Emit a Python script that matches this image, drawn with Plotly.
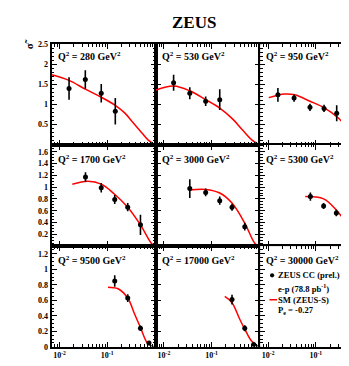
import plotly.graph_objects as go
from plotly.subplots import make_subplots

# ---------------- data ----------------
q2_values = [280, 530, 950, 1700, 3000, 5300, 9500, 17000, 30000]

point_x = [
    [0.0158, 0.0347, 0.075, 0.148],
    [0.016, 0.035, 0.0755, 0.149],
    [0.016, 0.035, 0.0755, 0.149, 0.275],
    [0.035, 0.075, 0.144, 0.27, 0.50],
    [0.035, 0.0755, 0.149, 0.27, 0.50],
    [0.077, 0.146, 0.27, 0.49],
    [0.144, 0.27, 0.50, 0.755],
    [0.27, 0.50, 0.77],
    [0.49],
]
point_y = [
    [1.40, 1.62, 1.28, 0.83],
    [1.54, 1.28, 1.08, 1.12],
    [1.24, 1.16, 0.93, 0.90, 0.78],
    [1.17, 0.99, 0.79, 0.66, 0.36],
    [0.975, 0.91, 0.77, 0.66, 0.33],
    [0.84, 0.68, 0.56, 0.28],
    [0.85, 0.63, 0.24, 0.05],
    [0.61, 0.24, 0.03],
    [0.28],
]
point_err = [
    [0.28, 0.23, 0.23, 0.33],
    [0.20, 0.15, 0.12, 0.26],
    [0.17, 0.09, 0.09, 0.09, 0.20],
    [0.083, 0.08, 0.075, 0.07, 0.17],
    [0.16, 0.066, 0.07, 0.06, 0.066],
    [0.07, 0.05, 0.055, 0.044],
    [0.073, 0.05, 0.035, 0.012],
    [0.063, 0.04, 0.012],
    [0.05],
]

curve_x = [
    [0.0068, 0.0158, 0.0347, 0.075, 0.148, 0.233, 0.348, 0.52, 0.72, 1.0],
    [0.0068, 0.016, 0.035, 0.0755, 0.149, 0.283, 0.46, 0.70, 1.0],
    [0.0103, 0.0222, 0.036, 0.0755, 0.154, 0.293, 0.475, 0.76, 1.0],
    [0.0185, 0.0395, 0.075, 0.143, 0.27, 0.50, 0.845, 1.0],
    [0.034, 0.0755, 0.149, 0.27, 0.50, 0.81, 1.0],
    [0.060, 0.146, 0.27, 0.49, 0.735, 1.0],
    [0.104, 0.169, 0.27, 0.378, 0.50, 0.72, 1.0],
    [0.19, 0.27, 0.39, 0.50, 0.685, 1.0],
    [0.34, 0.49, 0.735, 1.0],
]
curve_y = [
    [1.74, 1.60, 1.38, 1.18, 0.98, 0.79, 0.55, 0.31, 0.12, 0.0],
    [1.36, 1.46, 1.34, 1.12, 0.91, 0.63, 0.35, 0.12, 0.0],
    [1.17, 1.26, 1.24, 1.08, 0.91, 0.67, 0.39, 0.08, 0.0],
    [1.05, 1.10, 1.05, 0.88, 0.66, 0.36, 0.05, 0.0],
    [0.95, 0.96, 0.90, 0.73, 0.39, 0.05, 0.0],
    [0.84, 0.80, 0.61, 0.33, 0.08, 0.0],
    [0.77, 0.75, 0.63, 0.42, 0.25, 0.04, 0.0],
    [0.65, 0.57, 0.36, 0.23, 0.08, 0.0],
    [0.34, 0.27, 0.06, 0.0],
]

row_y_ranges = [[0, 2.5], [0, 1.72], [0, 1.3]]
row_y_ticks = [[0.5, 1, 1.5, 2, 2.5],
               [0.2, 0.4, 0.6, 0.8, 1.0, 1.2, 1.4, 1.6],
               [0, 0.2, 0.4, 0.6, 0.8, 1.0, 1.2]]
row_y_ticktext = [["0.5", "1", "1.5", "2", "2.5"],
                  ["0.2", "0.4", "0.6", "0.8", "1", "1.2", "1.4", "1.6"],
                  ["0", "0.2", "0.4", "0.6", "0.8", "1", "1.2"]]
row_y_minor = [0.1, 0.05, 0.05]
x_tickvals = [0.01, 0.1]
x_ticktext = ["10<sup>-2</sup>", "10<sup>-1</sup>"]
legend_lines = ["ZEUS CC (prel.)", "e-p (78.8 pb<sup>-1</sup>)", "SM (ZEUS-S)", "P<sub>e</sub> = -0.27"]

# ---------------- layout geometry (pixels) ----------------
W, H = 349, 366
col_left = [43.5, 147.8, 252.1]
col_w = 104.3
row_top = [33, 136, 240]
row_bot = [136, 240, 343.3]
decade_px = 47.6
x_lo = -2.17

def px(x):
    return x / W

def py(y):
    return 1 - y / H

FONT = "Liberation Serif"

fig = make_subplots(rows=3, cols=3, horizontal_spacing=0, vertical_spacing=0)

minor_x = [m * 10 ** e for e in (-3, -2, -1) for m in range(2, 10)]

for i in range(9):
    r, c = divmod(i, 3)
    fig.add_trace(go.Scatter(
        x=curve_x[i], y=curve_y[i], mode="lines",
        line=dict(color="#ff0000", width=1.5, shape="spline", smoothing=1.0),
        showlegend=False, cliponaxis=True), row=r + 1, col=c + 1)
    fig.add_trace(go.Scatter(
        x=point_x[i], y=point_y[i], mode="markers",
        marker=dict(color="black", size=5),
        error_y=dict(type="data", array=point_err[i], color="black", thickness=1.6, width=0),
        showlegend=False, cliponaxis=True), row=r + 1, col=c + 1)

    x0 = col_left[c]
    x1 = min(col_left[c] + col_w, W)
    xr_hi = x_lo + (x1 - x0) / decade_px
    fig.update_xaxes(
        type="log", range=[x_lo, xr_hi],
        domain=[px(x0), px(x1)],
        showline=True, linecolor="black", linewidth=2, mirror="ticks",
        ticks="inside", ticklen=5, tickwidth=1.3, tickcolor="black",
        tickvals=x_tickvals, ticktext=x_ticktext,
        showticklabels=(r == 2),
        tickfont=dict(family=FONT, size=8, color="black", weight="bold"),
        minor=dict(ticks="inside", ticklen=2.5, tickwidth=1, tickcolor="black", tickvals=minor_x),
        showgrid=False, zeroline=False,
        row=r + 1, col=c + 1)
    fig.update_yaxes(
        range=row_y_ranges[r],
        domain=[py(row_bot[r]), py(row_top[r])],
        showline=True, linecolor="black", linewidth=2,
        mirror=("ticks" if c < 2 else False),
        ticks="inside", ticklen=5, tickwidth=1.3, tickcolor="black",
        tickvals=row_y_ticks[r], ticktext=row_y_ticktext[r],
        showticklabels=(c == 0),
        tickfont=dict(family=FONT, size=8, color="black", weight="bold"),
        minor=dict(ticks="inside", ticklen=2.5, tickwidth=1, tickcolor="black", dtick=row_y_minor[r]),
        showgrid=False, zeroline=False,
        row=r + 1, col=c + 1)

annotations = []
label_y = [45, 151, 254]
for i, q in enumerate(q2_values):
    r, c = divmod(i, 3)
    annotations.append(dict(
        x=px(col_left[c] + 4), y=py(label_y[r]), xref="paper", yref="paper",
        xanchor="left", yanchor="middle", showarrow=False,
        text=f"Q<sup>2</sup> = {q} GeV<sup>2</sup>",
        font=dict(family=FONT, size=10, color="black", weight="bold")))

# title
annotations.append(dict(x=px(186), y=py(11), xref="paper", yref="paper", showarrow=False,
                        xanchor="center", yanchor="middle", text="ZEUS",
                        font=dict(family=FONT, size=17, color="black", weight="bold")))
# y label
annotations.append(dict(x=px(21), y=py(33), xref="paper", yref="paper", showarrow=False,
                        xanchor="center", yanchor="middle", text="σ\u0303", textangle=-90,
                        font=dict(family=FONT, size=11, color="black", weight="bold")))
# x label (partly outside picture)
annotations.append(dict(x=px(345), y=py(360), xref="paper", yref="paper", showarrow=False,
                        xanchor="left", yanchor="middle", text="x",
                        font=dict(family=FONT, size=10, color="black", weight="bold")))
# legend text
leg_y = [270, 283, 295, 306]
for t, yy in zip(legend_lines, leg_y):
    annotations.append(dict(x=px(268), y=py(yy), xref="paper", yref="paper", showarrow=False,
                            xanchor="left", yanchor="middle", text=t,
                            font=dict(family=FONT, size=8.6, color="black", weight="bold")))

shapes = [
    dict(type="circle", xref="paper", yref="paper",
         x0=px(262), x1=px(266.2), y0=py(272.1), y1=py(267.9),
         fillcolor="black", line=dict(color="black", width=0)),
    dict(type="line", xref="paper", yref="paper",
         x0=px(261.5), x1=px(269), y0=py(295), y1=py(295),
         line=dict(color="#ff0000", width=1.5)),
]

fig.update_layout(
    width=W, height=H,
    margin=dict(l=0, r=0, t=0, b=0),
    paper_bgcolor="white", plot_bgcolor="white",
    annotations=annotations, shapes=shapes,
    showlegend=False,
)

fig.write_html("out.html")
